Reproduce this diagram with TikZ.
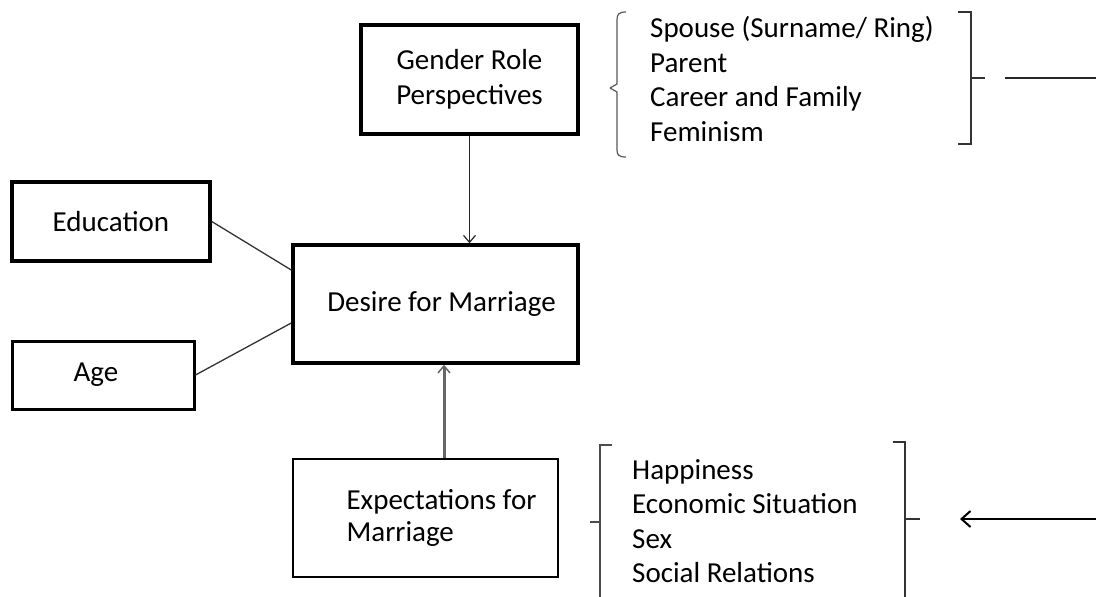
\documentclass[tikz,border=0pt]{standalone}
\usepackage{fontspec}
\setmainfont{Carlito}
\usetikzlibrary{arrows.meta}
\tikzset{
  boxnode/.style={draw=black, line width=3.5pt, rectangle, inner sep=0pt, align=center,
    font=\fontsize{29}{35}\selectfont},
  listnode/.style={inner sep=0pt, align=left, anchor=west, font=\fontsize{29}{34.5}\selectfont},
  thinlink/.style={draw=black!80, line width=1.3pt},
  grayarrow/.style={draw=black!60, line width=3pt, -{Straight Barb[length=7pt,width=12pt,line width=1.5pt]}},
  thinarrow/.style={draw=black!85, line width=1.3pt, -{Straight Barb[length=7pt,width=12pt,line width=1.2pt]}},
  bigarrow/.style={draw=black, line width=2.5pt, -{Straight Barb[length=9pt,width=16pt,line width=2pt]}},
  thinbrace/.style={draw=black!65, line width=1.2pt},
  thickbrace/.style={draw=black!80, line width=2.2pt}
}
\begin{document}
\begin{tikzpicture}[x=1pt,y=-1pt]
\useasboundingbox (0,0) rectangle (1096,597);
% boxes
\node[boxnode, minimum width=217pt, minimum height=109pt] (gender) at (469.5,79.5) {Gender Role\\Perspectives};
\node[boxnode, minimum width=198pt, minimum height=79pt] (edu) at (111,221.5) {Education};
\node[boxnode, minimum width=182pt, minimum height=68pt, line width=3pt] (age) at (103,375) {Age\hspace*{14pt}};
\node[boxnode, minimum width=285pt, minimum height=118pt] (desire) at (435.5,304) {\hspace*{12pt}Desire for Marriage};
\node[boxnode, minimum width=265pt, minimum height=118pt, line width=2.8pt, align=left,
  font=\fontsize{29}{32}\selectfont] (expect) at (425.5,518)
  {\hspace*{32pt}Expectations for\\\hspace*{32pt}Marriage};
% lists
\node[listnode] (glist) at (650,79) {Spouse (Surname/ Ring)\\Parent\\Career and Family\\Feminism};
\node[listnode] (elist) at (632,521) {Happiness\\Economic Situation\\Sex\\Social Relations};
% connectors
\draw[thinarrow] (gender.south) -- (gender.south |- desire.north);
\draw[grayarrow] ([xshift=18.5pt]expect.north) -- ([xshift=18.5pt]expect.north |- desire.south);
\draw[thinlink] (edu.east) -- ([yshift=34pt]desire.west);
\draw[thinlink] (age.east) -- ([yshift=-19pt]desire.west);
% upper brackets
\draw[thinbrace] (626,12) .. controls (619,12) and (617,14) .. (617,20) -- (617,84) -- (610,88)
  (610,88) -- (617,92) -- (617,150) .. controls (617,155) and (619,157) .. (626,157);
\draw[thickbrace] (958,12) -- (971,12) -- (971,144) -- (958,144);
\draw[thickbrace] (971,78) -- (985,78);
\coordinate (gout) at (1005,78);
\coordinate (gend) at (1096,78);
\draw[draw=black!85, line width=2.6pt] (gout) -- (gend);
% lower brackets
\draw[thickbrace, draw=black!70] (612,445) -- (600,445) -- (600,597);
\draw[thickbrace, draw=black!70] (600,522) -- (590,522);
\draw[thickbrace] (893,442) -- (905,442) -- (905,597);
\draw[thickbrace] (905,519) -- (920,519);
\coordinate (ein) at (960,519);
\coordinate (estart) at (1096,519);
\draw[bigarrow] (estart) -- (ein);
\end{tikzpicture}
\end{document}
